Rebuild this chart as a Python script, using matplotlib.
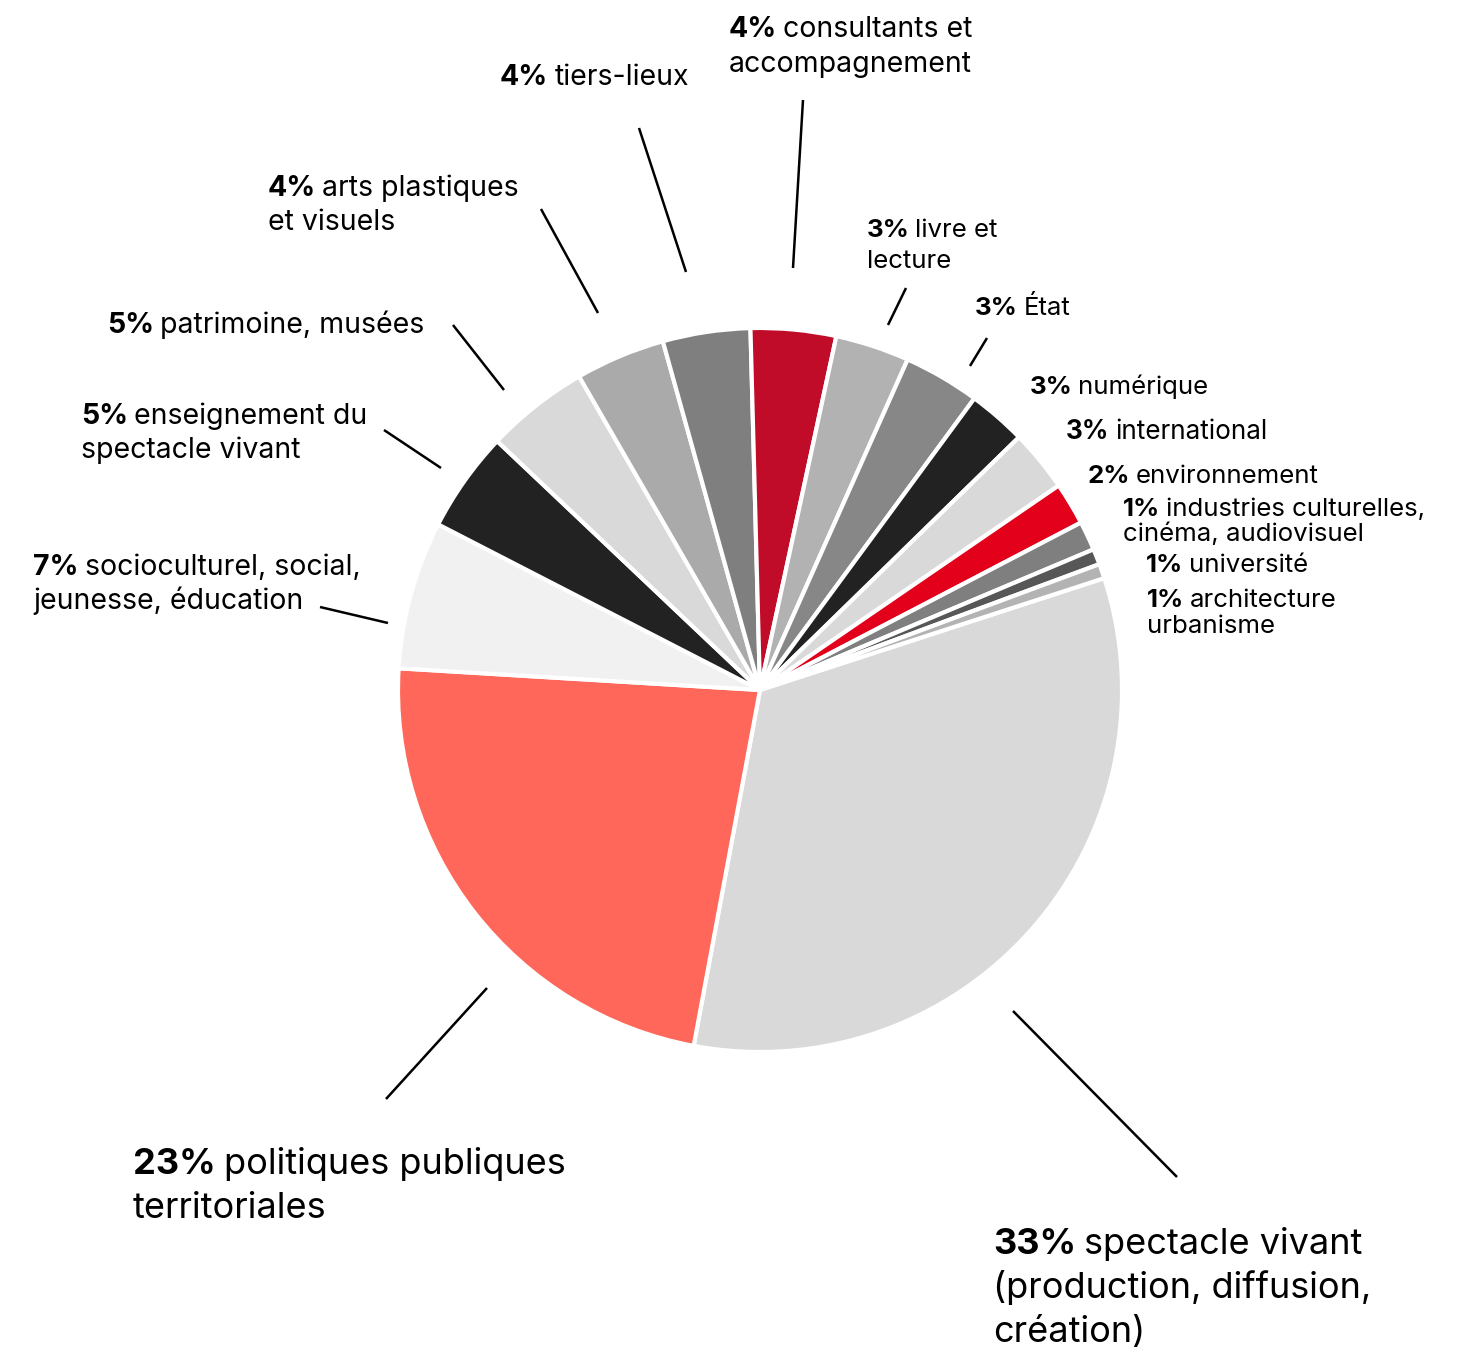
import matplotlib
matplotlib.use("Agg")
import matplotlib.pyplot as plt

plt.rcParams['font.family'] = ['Inter', 'DejaVu Sans']

W, H = 1462, 1349

# slices, clockwise from the start of "spectacle vivant"
pcts = ["33%", "23%", "7%", "5%", "5%", "4%", "4%", "4%", "3%", "3%", "3%", "3%", "2%", "1%", "1%", "1%"]
names = ["spectacle vivant\n(production, diffusion,\ncréation)",
         "politiques publiques\nterritoriales",
         "socioculturel, social,\njeunesse, éducation",
         "enseignement du\nspectacle vivant",
         "patrimoine, musées",
         "arts plastiques\net visuels",
         "tiers-lieux",
         "consultants et\naccompagnement",
         "livre et\nlecture",
         "État",
         "numérique",
         "international",
         "environnement",
         "industries culturelles,\ncinéma, audiovisuel",
         "université",
         "architecture\nurbanisme"]
values = [32.9, 23.0, 6.6, 4.5, 4.6, 4.0, 3.9, 3.8, 3.3, 3.4, 2.6, 2.75, 1.9, 1.3, 0.7, 0.65]
colors = ["#D9D9D9", "#FF675A", "#F1F1F1", "#222222", "#D9D9D9", "#AAAAAA", "#7F7F7F",
          "#C00C28", "#B2B2B2", "#878787", "#222222", "#D9D9D9", "#E3001B", "#7F7F7F",
          "#575757", "#B3B3B3"]

# label placement (pixel coords: left x, first baseline y), size, line spacing
label_x = [993, 133, 33, 81, 107, 268, 500, 729, 867, 975, 1030, 1066, 1088, 1123, 1146, 1147]
label_y = [1254, 1174, 575, 424, 333, 196, 85, 37, 237, 315, 394, 439, 483, 516, 572, 607]
label_size = [26, 26, 20.5, 20.5, 20.5, 20.5, 20.5, 20.5, 18.6, 18.6, 18.6, 18.8, 18.6, 18.6, 18.6, 18.6]
label_lh = [44, 44, 34, 34, 34, 34, 34, 35, 31, 31, 31, 31, 31, 25, 31, 26]

# leader lines (pixel coords)
leaders = {
    0: ((1013, 1011), (1177, 1177)),
    1: ((487, 988), (386, 1099)),
    2: ((320, 607), (388, 623)),
    3: ((384, 430), (441, 468)),
    4: ((453, 325), (504, 390)),
    5: ((541, 209), (598, 313)),
    6: ((639, 128), (686, 272)),
    7: ((803, 100), (793, 268)),
    8: ((906, 288), (888, 325)),
    9: ((987, 338), (970, 366)),
}

fig = plt.figure(figsize=(W / 100, H / 100), dpi=100)
ax = fig.add_axes([0, 0, 1, 1])
ax.set_xlim(0, W)
ax.set_ylim(0, H)
ax.axis('off')

ax.pie(values, colors=colors, startangle=18, counterclock=False,
       center=(760, H - 690), radius=362,
       wedgeprops=dict(edgecolor='white', linewidth=3))
ax.set_xlim(0, W)
ax.set_ylim(0, H)

for i, (p0, p1) in leaders.items():
    ax.plot([p0[0], p1[0]], [H - p0[1], H - p1[1]], color='black', lw=1.8,
            solid_capstyle='butt')

renderer = fig.canvas.get_renderer()
inv = ax.transData.inverted()
for i in range(len(pcts)):
    x, y = label_x[i], H - label_y[i]
    lines = names[i].split('\n')
    t = ax.text(x, y, pcts[i], fontsize=label_size[i], fontweight='bold',
                va='baseline', ha='left', color='black')
    bb = t.get_window_extent(renderer)
    x1 = inv.transform((bb.x1, bb.y0))[0]
    gap = label_size[i] * 0.3
    ax.text(x1 + gap, y, lines[0], fontsize=label_size[i], va='baseline',
            ha='left', color='black')
    for k, line in enumerate(lines[1:], start=1):
        ax.text(x, y - k * label_lh[i], line, fontsize=label_size[i],
                va='baseline', ha='left', color='black')

fig.savefig("out.png", dpi=100, facecolor='white')
